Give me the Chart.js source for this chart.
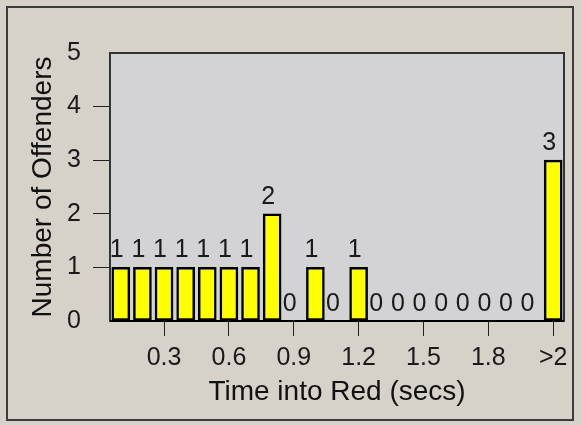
<!DOCTYPE html>
<html>
<head>
<meta charset="utf-8">
<script src="https://cdn.jsdelivr.net/npm/chart.js@4/dist/chart.umd.min.js"></script>
<style>
  html, body { margin: 0; padding: 0; background: #d6d2ca; }
  #wrap { position: relative; width: 582px; height: 425px; overflow: hidden; }
  #frame { position: absolute; left: 6px; top: 6px; width: 568px; height: 415px;
           box-sizing: border-box; border: 2px solid #3c3c3c; }
  canvas { position: absolute; left: 0; top: 0; }
</style>
</head>
<body>
<div id="wrap">
  <div id="frame"></div>
  <canvas id="c" width="582" height="425"></canvas>
</div>
<script>
const categories = ['0.1','0.2','0.3','0.4','0.5','0.6','0.7','0.8','0.9','1.0',
                    '1.1','1.2','1.3','1.4','1.5','1.6','1.7','1.8','1.9','2.0','>2'];
const offenders = [1,1,1,1,1,1,1,2,0,1,0,1,0,0,0,0,0,0,0,0,3];
const xTickLabels = ['0.3','0.6','0.9','1.2','1.5','1.8','>2'];
const yTickValues = [0,1,2,3,4,5];
const xTitle = 'Time into Red (secs)';
const yTitle = 'Number of Offenders';

const FONT = '"Liberation Sans", Arial, sans-serif';

const plotBox = {
  id: 'plotBox',
  beforeDatasetsDraw(chart) {
    const {ctx, chartArea: a} = chart;
    ctx.save();
    ctx.fillStyle = '#d3d3d5';
    ctx.fillRect(a.left, a.top, a.right - a.left, a.bottom - a.top);
    ctx.restore();
  },
  afterDatasetsDraw(chart) {
    const {ctx, chartArea: a} = chart;
    ctx.save();
    ctx.strokeStyle = '#333';
    ctx.lineWidth = 2;
    ctx.strokeRect(a.left, a.top, a.right - a.left, a.bottom - a.top);
    ctx.strokeStyle = '#000';
    ctx.beginPath();
    ctx.moveTo(a.left, a.bottom);
    ctx.lineTo(a.right, a.bottom);
    ctx.stroke();
    // value labels
    const meta = chart.getDatasetMeta(0);
    ctx.fillStyle = '#1a1a1a';
    ctx.font = '25px ' + FONT;
    ctx.textAlign = 'center';
    ctx.textBaseline = 'alphabetic';
    meta.data.forEach((bar, i) => {
      ctx.fillText(String(offenders[i]), bar.x - 4, bar.y - 10);
    });
    ctx.restore();
  }
};

new Chart(document.getElementById('c'), {
  type: 'bar',
  data: {
    labels: categories,
    datasets: [{
      data: offenders,
      backgroundColor: '#ffff00',
      borderColor: '#000000',
      borderWidth: 2.5,
      borderSkipped: false,
      barThickness: 18
    }]
  },
  options: {
    responsive: false,
    devicePixelRatio: 1,
    animation: false,
    layout: { padding: { left: 0, right: 18, top: 53, bottom: 0 } },
    plugins: { legend: { display: false }, tooltip: { enabled: false } },
    scales: {
      x: {
        type: 'category',
        offset: true,
        afterBuildTicks(scale) {
          scale.ticks = scale.ticks.filter(t => xTickLabels.includes(categories[t.value]));
        },
        afterFit(scale) { scale.height = 104; },
        grid: { offset: false, drawOnChartArea: false, drawTicks: true, tickLength: 15,
                color: '#222', lineWidth: 1 },
        border: { display: false },
        ticks: { autoSkip: false, maxRotation: 0, minRotation: 0, padding: 7,
                 color: '#1a1a1a', font: { family: FONT, size: 25 } },
        title: { display: true, text: xTitle, color: '#111',
                 font: { family: FONT, size: 28 }, padding: { top: 0, bottom: 16 } }
      },
      y: {
        min: 0, max: 5,
        afterBuildTicks(scale) {
          scale.ticks = yTickValues.map(v => ({ value: v }));
        },
        afterFit(scale) { scale.width = 110; },
        grid: { drawOnChartArea: false, drawTicks: true, tickLength: 17, lineWidth: 1,
                color: ctx => (ctx.tick && (ctx.tick.value === 0 || ctx.tick.value === 5)) ? 'rgba(0,0,0,0)' : '#222' },
        border: { display: false },
        ticks: { padding: 12, color: '#1a1a1a', font: { family: FONT, size: 25 } },
        title: { display: true, text: yTitle, color: '#111',
                 font: { family: FONT, size: 28 }, padding: { top: 26, bottom: 0 } }
      }
    }
  },
  plugins: [plotBox]
});
</script>
</body>
</html>
